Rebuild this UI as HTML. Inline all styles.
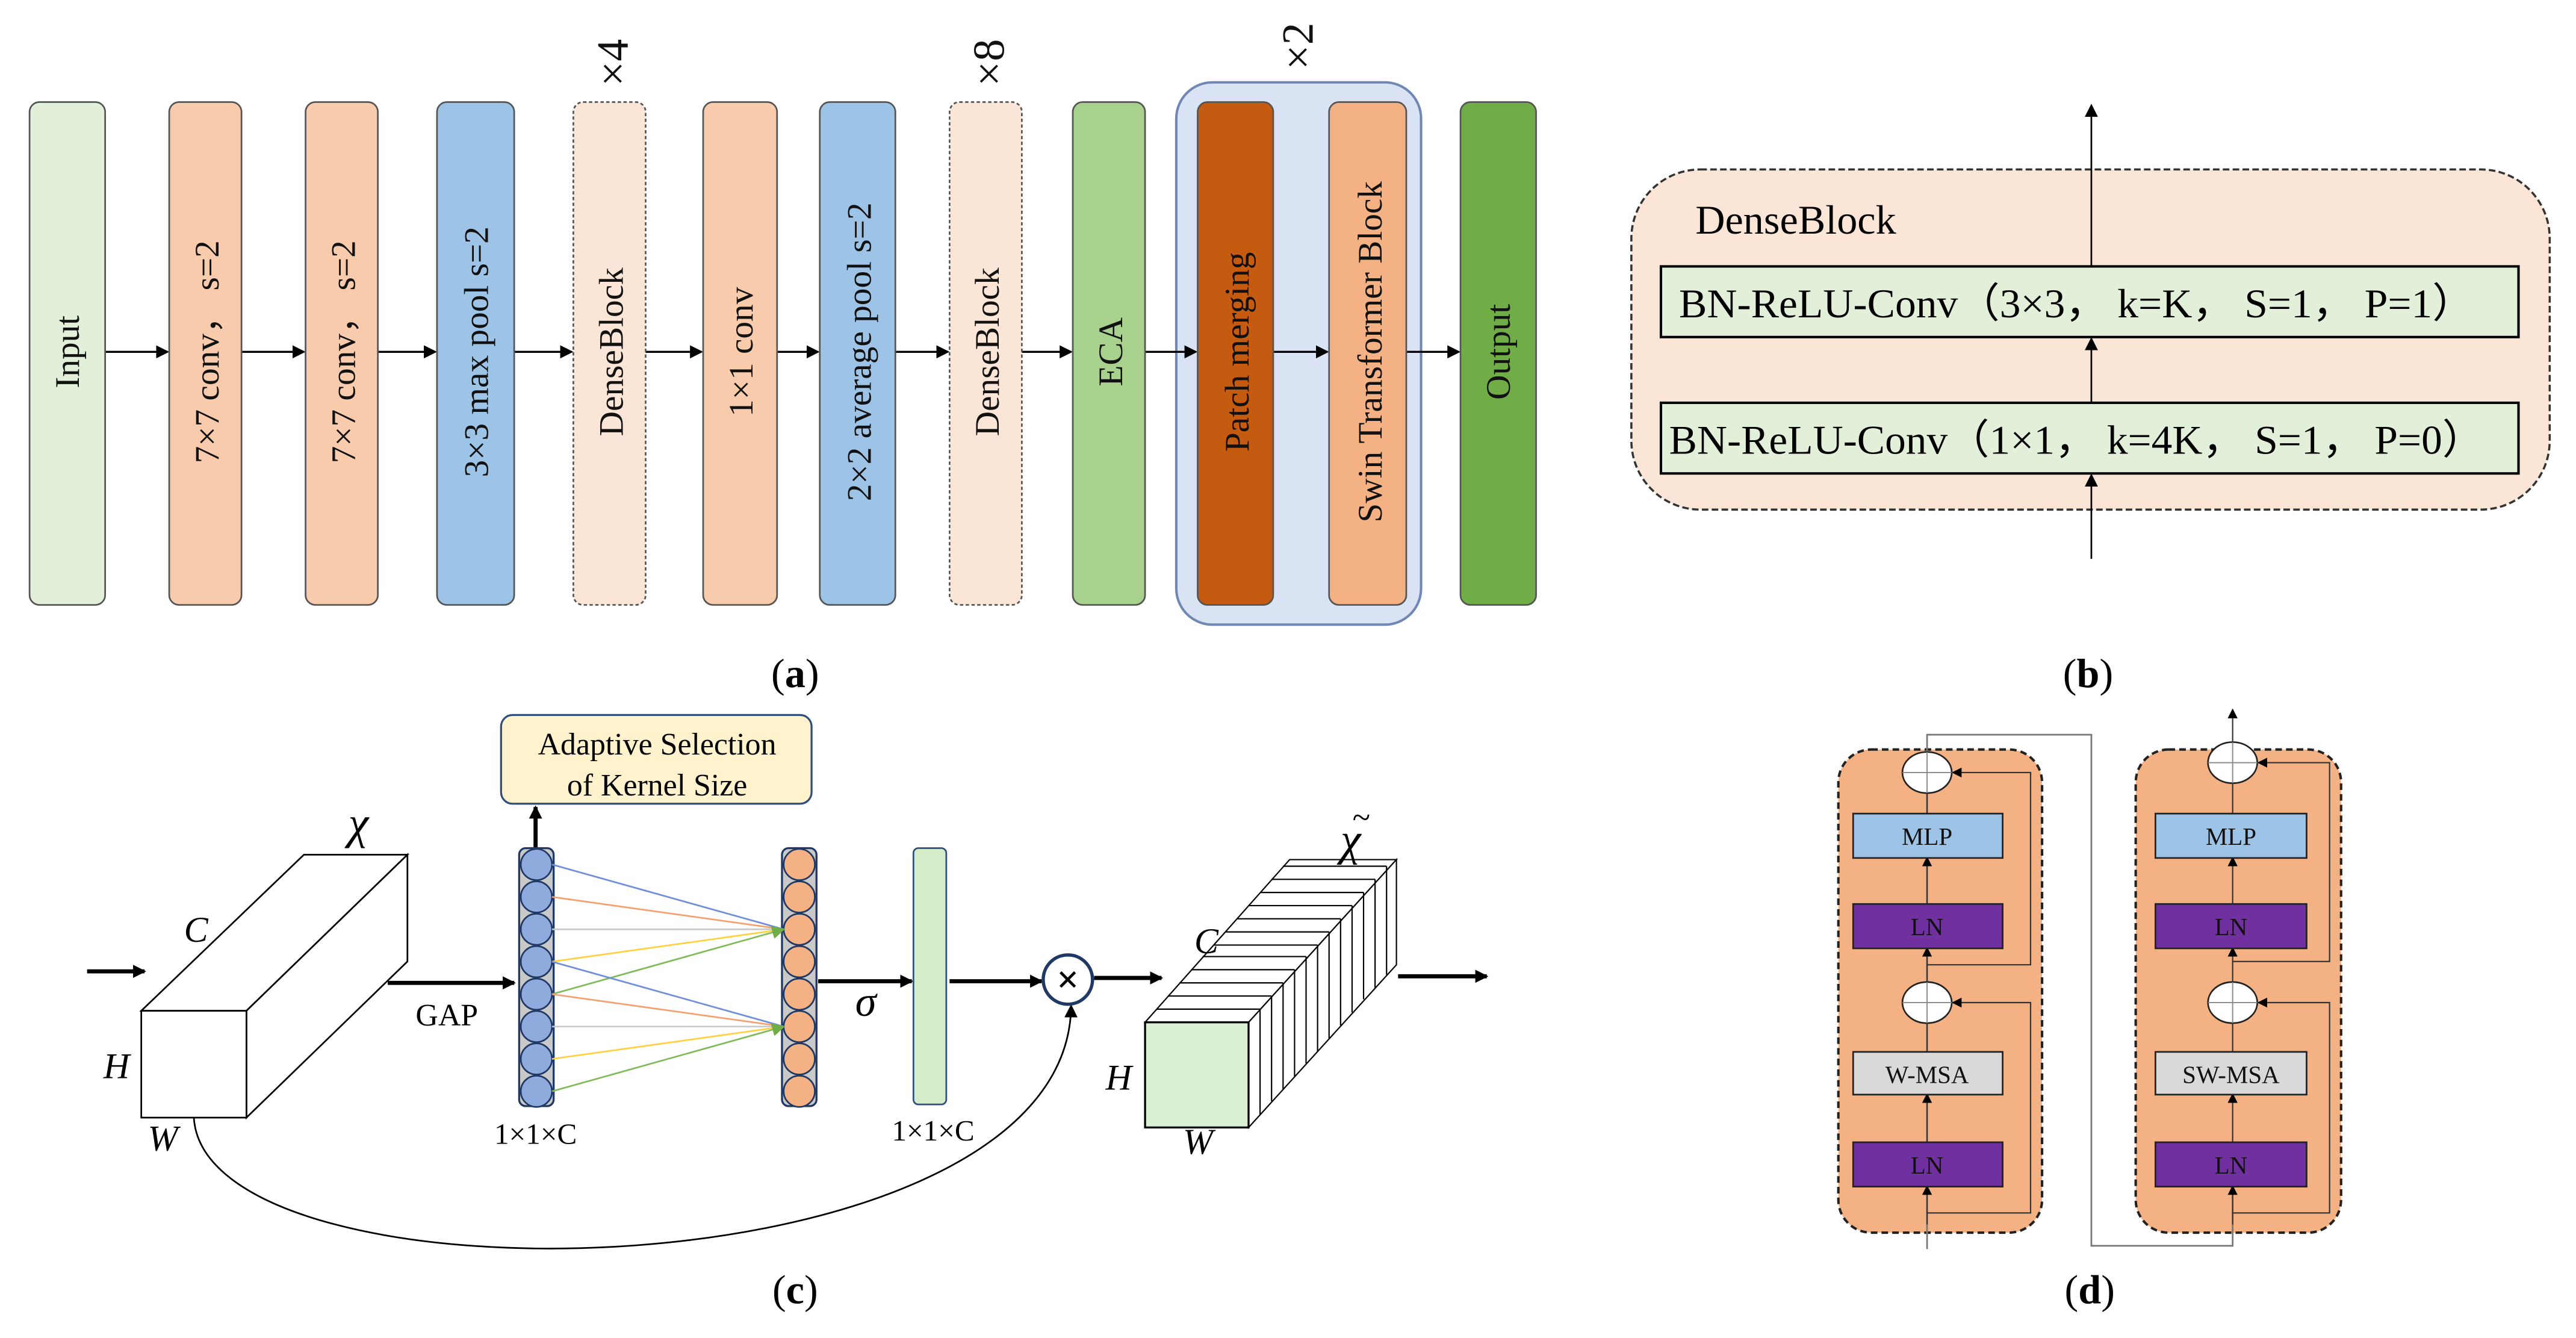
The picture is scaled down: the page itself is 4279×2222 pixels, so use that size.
<!DOCTYPE html>
<html><head><meta charset="utf-8"><style>html,body{margin:0;padding:0;background:#fff}svg{display:block}text{font-family:"Liberation Serif",serif}</style></head>
<body>
<svg width="4279" height="2222" viewBox="0 0 1568 814" xmlns="http://www.w3.org/2000/svg">
<defs>
<marker id="ah" markerWidth="8" markerHeight="8" refX="7" refY="4" orient="auto" markerUnits="userSpaceOnUse"><path d="M0,0 L8,4 L0,8 z" fill="#000"/></marker>
<marker id="ahs" markerWidth="6" markerHeight="6" refX="5" refY="3" orient="auto" markerUnits="userSpaceOnUse"><path d="M0,0 L6,3 L0,6 z" fill="#000"/></marker>
<marker id="ahg" markerWidth="8" markerHeight="8" refX="7" refY="4" orient="auto" markerUnits="userSpaceOnUse"><path d="M0,0 L8,4 L0,8 z" fill="#70ad47"/></marker>
</defs>
<rect width="1568" height="814" fill="#fff"/>
<rect x="716" y="50" width="149" height="330" rx="22" fill="#dae3f3" stroke="#6f87b5" stroke-width="1.5"/>
<g stroke="#000" stroke-width="1.2" marker-end="url(#ah)">
<line x1="64" y1="214" x2="102" y2="214"/><line x1="147" y1="214" x2="185" y2="214"/>
<line x1="230" y1="214" x2="265" y2="214"/><line x1="313" y1="214" x2="348" y2="214"/>
<line x1="393" y1="214" x2="427" y2="214"/><line x1="473" y1="214" x2="498" y2="214"/>
<line x1="545" y1="214" x2="577" y2="214"/><line x1="622" y1="214" x2="652" y2="214"/>
<line x1="697" y1="214" x2="728" y2="214"/><line x1="775" y1="214" x2="808" y2="214"/>
<line x1="856" y1="214" x2="888" y2="214"/>
</g>
<g stroke="#555" stroke-width="1">
<rect x="18" y="62" width="46" height="306" rx="6" fill="#e2efd9"/>
<rect x="103" y="62" width="44" height="306" rx="6" fill="#f8cbad"/>
<rect x="186" y="62" width="44" height="306" rx="6" fill="#f8cbad"/>
<rect x="266" y="62" width="47" height="306" rx="6" fill="#9dc3e6"/>
<rect x="349" y="62" width="44" height="306" rx="6" fill="#fbe5d6" stroke-dasharray="2,1.5"/>
<rect x="428" y="62" width="45" height="306" rx="6" fill="#f8cbad"/>
<rect x="499" y="62" width="46" height="306" rx="6" fill="#9dc3e6"/>
<rect x="578" y="62" width="44" height="306" rx="6" fill="#fbe5d6" stroke-dasharray="2,1.5"/>
<rect x="653" y="62" width="44" height="306" rx="6" fill="#a9d18e"/>
<rect x="729" y="62" width="46" height="306" rx="6" fill="#c55a11"/>
<rect x="809" y="62" width="47" height="306" rx="6" fill="#f4b183"/>
<rect x="889" y="62" width="46" height="306" rx="6" fill="#70ad47"/>
</g>
<g font-size="21" text-anchor="middle" fill="#111">
<text transform="translate(48,214) rotate(-90)">Input</text>
<text transform="translate(133,214) rotate(-90)">7×7 conv，  s=2</text>
<text transform="translate(216,214) rotate(-90)">7×7 conv，  s=2</text>
<text transform="translate(297,214) rotate(-90)">3×3 max pool s=2</text>
<text transform="translate(379,214) rotate(-90)">DenseBlock</text>
<text transform="translate(458,214) rotate(-90)">1×1 conv</text>
<text transform="translate(530,214) rotate(-90)">2×2 average pool s=2</text>
<text transform="translate(608,214) rotate(-90)">DenseBlock</text>
<text transform="translate(683,214) rotate(-90)">ECA</text>
<text transform="translate(760,214) rotate(-90)">Patch merging</text>
<text transform="translate(841,214) rotate(-90)">Swin  Transformer Block</text>
<text transform="translate(919,214) rotate(-90)">Output</text>
</g>
<g font-size="27" text-anchor="middle" fill="#111">
<text transform="translate(382,38) rotate(-90)" font-family="Liberation Sans">×4</text>
<text transform="translate(611,38) rotate(-90)" font-family="Liberation Sans">×8</text>
<text transform="translate(799,28) rotate(-90)" font-family="Liberation Sans">×2</text>
</g>
<text x="484" y="418" font-size="25" text-anchor="middle">(<tspan font-weight="bold">a</tspan>)</text>
<rect x="993" y="103" width="559" height="207" rx="42" fill="#fbe5d6" stroke="#333" stroke-width="1.3" stroke-dasharray="4,2"/>
<text x="1032" y="142" font-size="25">DenseBlock</text>
<rect x="1011" y="162" width="522" height="43" fill="#e2efd9" stroke="#000" stroke-width="1.5"/>
<rect x="1011" y="245" width="522" height="43" fill="#e2efd9" stroke="#000" stroke-width="1.5"/>
<text x="1022" y="193" font-size="25" textLength="484" lengthAdjust="spacingAndGlyphs">BN-ReLU-Conv（3×3，  k=K，  S=1，  P=1）</text>
<text x="1016" y="276" font-size="25" textLength="496" lengthAdjust="spacingAndGlyphs">BN-ReLU-Conv（1×1，  k=4K，  S=1，  P=0）</text>
<g stroke="#000" stroke-width="1" marker-end="url(#ah)">
<line x1="1273" y1="340" x2="1273" y2="289"/>
<line x1="1273" y1="245" x2="1273" y2="206"/>
<line x1="1273" y1="162" x2="1273" y2="64"/>
</g>
<text x="1271" y="418" font-size="25" text-anchor="middle">(<tspan font-weight="bold">b</tspan>)</text>
<rect x="305" y="435" width="189" height="54" rx="7" fill="#fff2cc" stroke="#2f4f7f" stroke-width="1.2"/>
<text x="400" y="459" font-size="19" text-anchor="middle">Adaptive Selection</text>
<text x="400" y="484" font-size="19" text-anchor="middle">of Kernel Size</text>
<line x1="326" y1="516" x2="326" y2="491" stroke="#000" stroke-width="2.5" marker-end="url(#ah)"/>
<g stroke="#000" stroke-width="2.5" marker-end="url(#ah)">
<line x1="53" y1="591" x2="88" y2="591"/>
<line x1="236" y1="598" x2="313" y2="598"/>
<line x1="498" y1="597" x2="555" y2="597"/>
<line x1="578" y1="597" x2="634" y2="597"/>
<line x1="666" y1="595" x2="707" y2="595"/>
<line x1="851" y1="594" x2="905" y2="594"/>
</g>
<g fill="#fff" stroke="#000" stroke-width="1">
<path d="M86,615 L185,520 L248,520 L150,615 Z"/>
<path d="M150,615 L248,520 L248,585 L150,680 Z"/>
<rect x="86" y="615" width="64" height="65"/>
</g>
<text x="212" y="510" font-size="28" font-style="italic">χ</text>
<text x="112" y="573" font-size="22" font-style="italic">C</text>
<text x="63" y="656" font-size="22" font-style="italic">H</text>
<text x="90" y="700" font-size="22" font-style="italic">W</text>
<text x="272" y="624" font-size="19" text-anchor="middle">GAP</text>
<path d="M118,680 C125,800 650,790 652,612" fill="none" stroke="#000" stroke-width="1" marker-end="url(#ah)"/>
<rect x="316" y="516" width="21" height="157" rx="4" fill="#c9c9c9" stroke="#1f3864" stroke-width="1.2"/>
<rect x="476" y="516" width="21" height="157" rx="4" fill="#c9c9c9" stroke="#1f3864" stroke-width="1.2"/>
<g stroke="#1f3864" stroke-width="1">
<g fill="#8faadc">
<circle cx="326.5" cy="526" r="9.5"/><circle cx="326.5" cy="545.7" r="9.5"/><circle cx="326.5" cy="565.4" r="9.5"/><circle cx="326.5" cy="585.1" r="9.5"/><circle cx="326.5" cy="604.9" r="9.5"/><circle cx="326.5" cy="624.6" r="9.5"/><circle cx="326.5" cy="644.3" r="9.5"/><circle cx="326.5" cy="664" r="9.5"/>
</g>
<g fill="#f4b183">
<circle cx="486.5" cy="526" r="9.5"/><circle cx="486.5" cy="545.7" r="9.5"/><circle cx="486.5" cy="565.4" r="9.5"/><circle cx="486.5" cy="585.1" r="9.5"/><circle cx="486.5" cy="604.9" r="9.5"/><circle cx="486.5" cy="624.6" r="9.5"/><circle cx="486.5" cy="644.3" r="9.5"/><circle cx="486.5" cy="664" r="9.5"/>
</g>
</g>
<g stroke-width="1">
<line x1="336" y1="526" x2="477" y2="565.4" stroke="#6f8fd8"/>
<line x1="336" y1="545.7" x2="477" y2="565.4" stroke="#f4a070"/>
<line x1="336" y1="565.4" x2="477" y2="565.4" stroke="#c8c8c8"/>
<line x1="336" y1="585.1" x2="477" y2="565.4" stroke="#ffd040"/>
<line x1="336" y1="604.9" x2="477" y2="565.4" stroke="#80bb5a" marker-end="url(#ahg)"/>
<line x1="336" y1="585.1" x2="477" y2="624.6" stroke="#6f8fd8"/>
<line x1="336" y1="604.9" x2="477" y2="624.6" stroke="#f4a070"/>
<line x1="336" y1="624.6" x2="477" y2="624.6" stroke="#c8c8c8"/>
<line x1="336" y1="644.3" x2="477" y2="624.6" stroke="#ffd040"/>
<line x1="336" y1="664" x2="477" y2="624.6" stroke="#80bb5a" marker-end="url(#ahg)"/>
</g>
<text x="527" y="618" font-size="26" font-style="italic" text-anchor="middle">σ</text>
<rect x="556" y="516" width="20" height="156" rx="3" fill="#d5ecc9" stroke="#2f4f7f" stroke-width="1"/>
<text x="326" y="696" font-size="18" text-anchor="middle">1×1×C</text>
<text x="568" y="694" font-size="18" text-anchor="middle">1×1×C</text>
<circle cx="650" cy="596" r="15" fill="#fff" stroke="#1f3864" stroke-width="2"/>
<text x="650" y="604" font-size="24" font-weight="bold" text-anchor="middle" font-family="Liberation Sans">×</text>
<g fill="#fff" stroke="#000" stroke-width="0.8">
<path d="M697,622 L785,523 L850,523 L760,622 Z"/>
<path d="M760,622 L850,523 L850,587 L760,686 Z"/>
<path d="M704,614 L767,614 M711,606 L774,606 M718,598 L781,598 M725,590 L788,590 M732,582 L795,582 M739,575 L802,575 M746,567 L809,567 M753,559 L816,559 M760,551 L823,551 M767,543 L830,543 M774,535 L837,535 M781,527 L844,527" fill="none"/>
<path d="M767,614 L767,678 M774,606 L774,670 M781,598 L781,663 M788,590 L788,655 M795,582 L795,647 M802,575 L802,640 M809,567 L809,632 M816,559 L816,624 M823,551 L823,616 M830,543 L830,608 M837,535 L837,601 M844,527 L844,593" fill="none"/>
<rect x="697" y="622" width="63" height="64" fill="#d9f0d2" stroke-width="1.2"/>
</g>
<text x="816" y="520" font-size="28" font-style="italic">χ</text>
<text x="823" y="504" font-size="20" font-style="italic">~</text>
<text x="727" y="580" font-size="22" font-style="italic">C</text>
<text x="673" y="663" font-size="22" font-style="italic">H</text>
<text x="720" y="702" font-size="22" font-style="italic">W</text>
<text x="484" y="793" font-size="25" text-anchor="middle">(<tspan font-weight="bold">c</tspan>)</text>
<rect x="1119" y="456" width="124" height="294" rx="20" fill="#f4b183" stroke="#222" stroke-width="1.5" stroke-dasharray="4,2.5"/>
<rect x="1300" y="456" width="125" height="294" rx="20" fill="#f4b183" stroke="#222" stroke-width="1.5" stroke-dasharray="4,2.5"/>
<path d="M1173,760 L1173,447 L1273,447 L1273,758 L1359,758 L1359,722" fill="none" stroke="#777" stroke-width="1"/>
<g stroke="#333" stroke-width="0.8" fill="none">
<path d="M1173,738 L1236,738 L1236,610 L1189,610" marker-end="url(#ahs)"/>
<path d="M1173,587 L1236,587 L1236,470 L1189,470" marker-end="url(#ahs)"/>
<path d="M1359,738 L1418,738 L1418,610 L1375,610" marker-end="url(#ahs)"/>
<path d="M1359,585 L1418,585 L1418,464 L1375,464" marker-end="url(#ahs)"/>
<line x1="1173" y1="745" x2="1173" y2="722" marker-end="url(#ahs)"/>
<line x1="1173" y1="695" x2="1173" y2="666" marker-end="url(#ahs)"/>
<line x1="1173" y1="640" x2="1173" y2="622"/>
<line x1="1173" y1="598" x2="1173" y2="577" marker-end="url(#ahs)"/>
<line x1="1173" y1="550" x2="1173" y2="522" marker-end="url(#ahs)"/>
<line x1="1173" y1="495" x2="1173" y2="482"/>
<line x1="1359" y1="745" x2="1359" y2="722" marker-end="url(#ahs)"/>
<line x1="1359" y1="695" x2="1359" y2="666" marker-end="url(#ahs)"/>
<line x1="1359" y1="640" x2="1359" y2="622"/>
<line x1="1359" y1="598" x2="1359" y2="577" marker-end="url(#ahs)"/>
<line x1="1359" y1="550" x2="1359" y2="522" marker-end="url(#ahs)"/>
<line x1="1359" y1="495" x2="1359" y2="476"/>
<line x1="1359" y1="452" x2="1359" y2="432" marker-end="url(#ahs)"/>
</g>
<g stroke="#222" stroke-width="1">
<ellipse cx="1173" cy="470" rx="15" ry="12.5" fill="#fff"/><ellipse cx="1173" cy="610" rx="15" ry="12.5" fill="#fff"/>
<ellipse cx="1359" cy="464" rx="15" ry="12.5" fill="#fff"/><ellipse cx="1359" cy="610" rx="15" ry="12.5" fill="#fff"/>
<path d="M1158,470 H1188 M1173,457.5 V482.5 M1158,610 H1188 M1173,597.5 V622.5 M1344,464 H1374 M1359,451.5 V476.5 M1344,610 H1374 M1359,597.5 V622.5" stroke="#888" stroke-width="0.7"/>
<rect x="1128" y="495" width="91" height="27" fill="#9dc3e6"/>
<rect x="1128" y="550" width="91" height="27" fill="#7030a0"/>
<rect x="1128" y="640" width="91" height="26" fill="#d9d9d9"/>
<rect x="1128" y="695" width="91" height="27" fill="#7030a0"/>
<rect x="1312" y="495" width="92" height="27" fill="#9dc3e6"/>
<rect x="1312" y="550" width="92" height="27" fill="#7030a0"/>
<rect x="1312" y="640" width="92" height="26" fill="#d9d9d9"/>
<rect x="1312" y="695" width="92" height="27" fill="#7030a0"/>
</g>
<g font-size="15" text-anchor="middle" fill="#111">
<text x="1173" y="514">MLP</text><text x="1173" y="569">LN</text><text x="1173" y="659">W-MSA</text><text x="1173" y="714">LN</text>
<text x="1358" y="514">MLP</text><text x="1358" y="569">LN</text><text x="1358" y="659">SW-MSA</text><text x="1358" y="714">LN</text>
</g>
<text x="1272" y="793" font-size="25" text-anchor="middle">(<tspan font-weight="bold">d</tspan>)</text>
</svg>
</body></html>
